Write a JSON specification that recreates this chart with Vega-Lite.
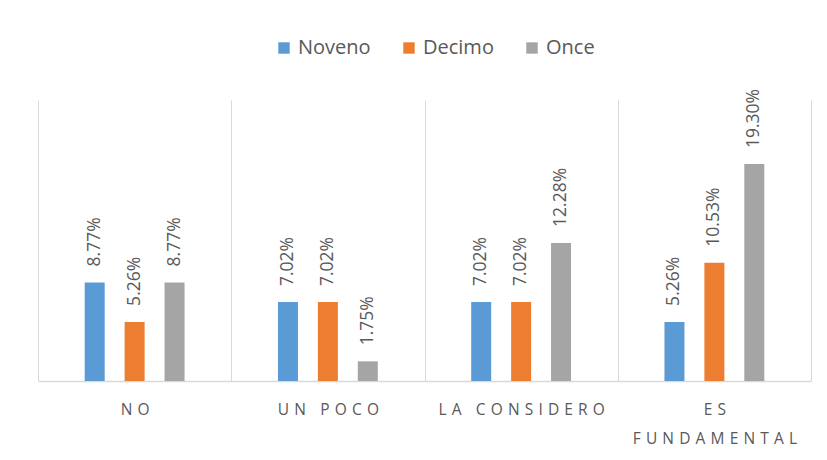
{
  "$schema": "https://vega.github.io/schema/vega-lite/v6.json",
  "width": 773,
  "height": 281,
  "autosize": {"type": "none"},
  "padding": {"left": 38, "top": 100, "right": 16, "bottom": 79},
  "background": "white",
  "data": {
    "values": [
      {"respuesta": "NO", "grado": "Noveno", "valor": 0.0877},
      {"respuesta": "NO", "grado": "Decimo", "valor": 0.0526},
      {"respuesta": "NO", "grado": "Once", "valor": 0.0877},
      {"respuesta": "UN POCO", "grado": "Noveno", "valor": 0.0702},
      {"respuesta": "UN POCO", "grado": "Decimo", "valor": 0.0702},
      {"respuesta": "UN POCO", "grado": "Once", "valor": 0.0175},
      {"respuesta": "LA CONSIDERO", "grado": "Noveno", "valor": 0.0702},
      {"respuesta": "LA CONSIDERO", "grado": "Decimo", "valor": 0.0702},
      {"respuesta": "LA CONSIDERO", "grado": "Once", "valor": 0.1228},
      {"respuesta": "ES FUNDAMENTAL", "grado": "Noveno", "valor": 0.0526},
      {"respuesta": "ES FUNDAMENTAL", "grado": "Decimo", "valor": 0.1053},
      {"respuesta": "ES FUNDAMENTAL", "grado": "Once", "valor": 0.193}
    ]
  },
  "encoding": {
    "x": {
      "field": "respuesta",
      "type": "nominal",
      "sort": ["NO", "UN POCO", "LA CONSIDERO", "ES FUNDAMENTAL"],
      "scale": {"paddingInner": 0, "paddingOuter": 0},
      "axis": {
        "title": null,
        "labelAngle": 0,
        "tickBand": "extent",
        "grid": true,
        "gridColor": "#d9d9d9",
        "gridWidth": 1,
        "domainColor": "#d9d9d9",
        "domainWidth": 1.5,
        "ticks": false,
        "labelPadding": 21,
        "labelFont": "Open Sans",
        "labelFontSize": 15.5,
        "labelColor": "#595959",
        "labelLineHeight": 29,
        "labelBaseline": "top",
        "labelExpr": "datum.value == 'ES FUNDAMENTAL' ? [join(split('ES',''),'\u2004'), join(split('FUNDAMENTAL',''),'\u2004')] : join(split(datum.label,''),'\u2004')"
      }
    },
    "xOffset": {
      "field": "grado",
      "type": "nominal",
      "sort": ["Noveno", "Decimo", "Once"],
      "scale": {"paddingInner": 0, "paddingOuter": 0.92}
    },
    "y": {
      "field": "valor",
      "type": "quantitative",
      "scale": {"domain": [0, 0.25], "nice": false},
      "axis": null
    }
  },
  "layer": [
    {
      "mark": {"type": "bar", "width": 20},
      "encoding": {
        "color": {
          "field": "grado",
          "type": "nominal",
          "sort": ["Noveno", "Decimo", "Once"],
          "scale": {"domain": ["Noveno", "Decimo", "Once"], "range": ["#5B9BD5", "#ED7D31", "#A5A5A5"]},
          "legend": {
            "title": null,
            "orient": "none",
            "legendX": 236,
            "legendY": -62,
            "direction": "horizontal",
            "symbolType": "square",
            "symbolSize": 130,
            "symbolStrokeWidth": 0,
            "labelFont": "Open Sans",
            "labelFontSize": 20,
            "labelColor": "#595959",
            "labelOffset": 4,
            "columnPadding": 28
          }
        }
      }
    },
    {
      "mark": {
        "type": "text",
        "angle": -90,
        "align": "left",
        "baseline": "middle",
        "dx": 16,
        "font": "Open Sans",
        "fontSize": 17.5,
        "color": "#595959"
      },
      "encoding": {
        "text": {"field": "valor", "type": "quantitative", "format": ".2%"}
      }
    }
  ],
  "config": {
    "view": {"stroke": null}
  }
}
